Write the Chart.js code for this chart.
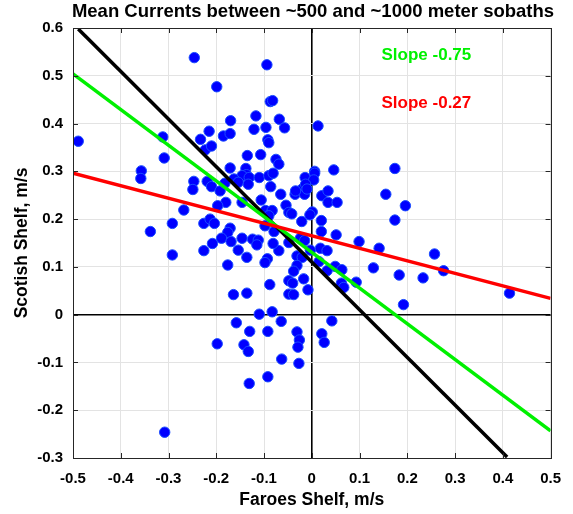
<!DOCTYPE html>
<html>
<head>
<meta charset="utf-8">
<script src="https://cdn.jsdelivr.net/npm/chart.js@4.4.1/dist/chart.umd.min.js"></script>
<style>
  html, body { margin: 0; padding: 0; background: #fff; }
  #chart { display: block; }
</style>
</head>
<body>
<canvas id="chart" width="573" height="514"></canvas>
<script>
// Data
const faroesShelf = [
  -0.246, -0.094, -0.199, -0.489, -0.312, -0.309, -0.357, -0.358, -0.170, -0.117,
  -0.215, -0.233, -0.185, -0.171, -0.223, -0.210, -0.121, -0.096, -0.092, -0.090,
  -0.087, -0.082, -0.068, -0.057, -0.135, -0.107, -0.075, -0.069, -0.171, -0.138,
  -0.137, -0.146, -0.131, -0.163, -0.154, -0.110, -0.090, -0.081, -0.086, -0.133,
  0.013, 0.046, 0.174, 0.006, -0.014, 0.006, 0.004, -0.065, -0.035, -0.020,
  -0.015, -0.013, 0.021, 0.034, 0.034, 0.053, -0.054, -0.048, -0.042, 0.001,
  -0.004, 0.155, 0.196, 0.174, -0.021, 0.020, 0.020, 0.051, 0.099, 0.141,
  0.257, 0.276, 0.414, -0.069, -0.048, -0.024, -0.015, -0.003, 0.018, 0.032,
  -0.031, -0.020, 0.015, -0.031, 0.049, 0.063, 0.129, 0.183, 0.233, -0.038,
  0.032, -0.048, -0.040, -0.017, 0.062, 0.067, 0.093, -0.008, -0.048, -0.038,
  0.192, -0.064, 0.042, -0.031, 0.021, -0.026, -0.029, 0.026, -0.063, -0.027,
  -0.088, -0.164, -0.136, -0.110, -0.083, -0.158, -0.130, -0.092, -0.198, -0.142,
  -0.133, -0.092, -0.131, -0.308, -0.247, -0.249, -0.219, -0.210, -0.192, -0.182,
  -0.180, -0.197, -0.146, -0.106, -0.268, -0.097, -0.083, -0.090, -0.098, -0.292,
  -0.226, -0.213, -0.204, -0.338, -0.171, -0.176, -0.146, -0.189, -0.169, -0.124,
  -0.112, -0.115, -0.079, -0.081, -0.208, -0.226, -0.292, -0.154, -0.136, -0.093,
  -0.098, -0.176, -0.034, -0.010
];
const scotishShelf = [
  0.538, 0.523, 0.477, 0.363, 0.372, 0.328, 0.301, 0.285, 0.406, 0.416,
  0.384, 0.367, 0.374, 0.379, 0.345, 0.353, 0.388, 0.392, 0.366, 0.360,
  0.446, 0.448, 0.409, 0.391, 0.333, 0.335, 0.325, 0.315, 0.307, 0.306,
  0.293, 0.291, 0.287, 0.284, 0.277, 0.287, 0.291, 0.296, 0.268, 0.273,
  0.395, 0.303, 0.306, 0.300, 0.287, 0.296, 0.282, 0.252, 0.252, 0.263,
  0.252, 0.273, 0.249, 0.259, 0.235, 0.235, 0.229, 0.214, 0.211, 0.215,
  0.209, 0.252, 0.228, 0.198, 0.195, 0.197, 0.174, 0.167, 0.153, 0.139,
  0.127, 0.092, 0.045, 0.134, 0.151, 0.160, 0.155, 0.135, 0.139, 0.134,
  0.123, 0.120, 0.111, 0.103, 0.101, 0.094, 0.098, 0.083, 0.077, 0.091,
  0.092, 0.071, 0.066, 0.075, 0.066, 0.057, 0.068, 0.052, 0.043, 0.042,
  0.021, -0.014, -0.013, -0.036, -0.040, -0.053, -0.068, -0.058, -0.093, -0.102,
  0.063, 0.042, 0.045, 0.001, 0.006, -0.017, -0.035, -0.035, -0.061, -0.063,
  -0.077, -0.130, -0.144, -0.246, 0.279, 0.262, 0.279, 0.268, 0.259, 0.275,
  0.235, 0.228, 0.235, 0.240, 0.219, 0.218, 0.218, 0.207, 0.186, 0.191,
  0.191, 0.200, 0.191, 0.174, 0.181, 0.172, 0.160, 0.160, 0.153, 0.158,
  0.156, 0.146, 0.174, 0.149, 0.149, 0.134, 0.125, 0.135, 0.120, 0.117,
  0.109, 0.104, 0.259, 0.263
];

// Fitted lines, end points
const blackLineX = [-0.489, 0.409];
const blackLineY = [0.598, -0.298];
const greenLineX = [-0.5, 0.5];
const greenLineY = [0.504, -0.243];
const redLineX = [-0.5, 0.5];
const redLineY = [0.296, 0.034];

// Axis ticks
const xTicks = [-0.5, -0.4, -0.3, -0.2, -0.1, 0, 0.1, 0.2, 0.3, 0.4, 0.5];
const yTicks = [-0.3, -0.2, -0.1, 0, 0.1, 0.2, 0.3, 0.4, 0.5, 0.6];

const chartTitle = 'Mean Currents between ~500 and ~1000 meter sobaths';
const xTitle = 'Faroes Shelf, m/s';
const yTitle = 'Scotish Shelf, m/s';
const slopeLabels = [
  { text: 'Slope -0.75', color: '#00f000', x: 0.24, y: 0.543 },
  { text: 'Slope -0.27', color: '#ff0000', x: 0.24, y: 0.442 }
];

const FONT = '"Liberation Sans", Arial, Helvetica, sans-serif';

function toPoints(xs, ys) {
  return xs.map((x, i) => ({ x: x, y: ys[i] }));
}

function tickLabel(v) {
  if (Math.abs(v) < 1e-9) return '0';
  return v.toFixed(1);
}

// MATLAB style box, inner ticks and text
const matlabFrame = {
  id: 'matlabFrame',
  afterDatasetsDraw(chart) {
    const ctx = chart.ctx;
    const a = chart.chartArea;
    const xs = chart.scales.x;
    const ys = chart.scales.y;
    ctx.save();
    ctx.strokeStyle = '#262626';
    ctx.lineWidth = 1;
    ctx.beginPath();
    xTicks.forEach(v => {
      const px = Math.round(xs.getPixelForValue(v)) + 0.5;
      ctx.moveTo(px, a.top); ctx.lineTo(px, a.top + 5);
      ctx.moveTo(px, a.bottom); ctx.lineTo(px, a.bottom - 5);
    });
    yTicks.forEach(v => {
      const py = Math.round(ys.getPixelForValue(v)) + 0.5;
      ctx.moveTo(a.left, py); ctx.lineTo(a.left + 5, py);
      ctx.moveTo(a.right, py); ctx.lineTo(a.right - 5, py);
    });
    ctx.stroke();
    ctx.strokeRect(Math.round(a.left) + 0.5, Math.round(a.top) + 0.5,
      Math.round(a.right - a.left), Math.round(a.bottom - a.top));

    ctx.fillStyle = '#000';
    ctx.textAlign = 'center';
    ctx.textBaseline = 'middle';
    ctx.font = 'bold 18.5px ' + FONT;
    ctx.fillText(chartTitle, 313, 12);

    ctx.font = 'bold 17.5px ' + FONT;
    ctx.fillText(xTitle, (a.left + a.right) / 2, 500);
    ctx.save();
    ctx.translate(22, (a.top + a.bottom) / 2);
    ctx.rotate(-Math.PI / 2);
    ctx.fillText(yTitle, 0, 0);
    ctx.restore();

    ctx.font = 'bold 17px ' + FONT;
    slopeLabels.forEach(s => {
      ctx.fillStyle = s.color;
      ctx.fillText(s.text, xs.getPixelForValue(s.x), ys.getPixelForValue(s.y));
    });
    ctx.restore();
  }
};

function lineSet(xs, ys, color) {
  return {
    type: 'line',
    data: toPoints(xs, ys),
    borderColor: color,
    borderWidth: 3.5,
    pointRadius: 0,
    showLine: true,
    fill: false
  };
}

new Chart(document.getElementById('chart'), {
  type: 'scatter',
  data: {
    datasets: [
      lineSet(redLineX, redLineY, '#ff0000'),
      lineSet(greenLineX, greenLineY, '#00f000'),
      lineSet(blackLineX, blackLineY, '#000000'),
      {
        data: toPoints(faroesShelf, scotishShelf),
        backgroundColor: '#0000ff',
        borderColor: '#1a4cff',
        borderWidth: 1,
        pointRadius: 5.2,
        order: 5
      }
    ]
  },
  options: {
    responsive: false,
    animation: false,
    events: [],
    layout: { padding: { top: 28, right: 21, left: 0, bottom: 0 } },
    plugins: {
      legend: { display: false },
      tooltip: { enabled: false }
    },
    scales: {
      x: {
        type: 'linear',
        min: -0.5,
        max: 0.5,
        afterBuildTicks: s => { s.ticks = xTicks.map(v => ({ value: v })); },
        afterFit: s => { s.height = 56; },
        border: { display: false },
        grid: {
          drawTicks: false,
          color: c => Math.abs(c.tick.value) < 1e-9 ? '#000' : '#e3e3e3',
          lineWidth: c => Math.abs(c.tick.value) < 1e-9 ? 1.6 : 1
        },
        ticks: {
          padding: 12,
          color: '#000',
          maxRotation: 0,
          font: { family: FONT, size: 15, weight: 'bold' },
          callback: v => tickLabel(v)
        }
      },
      y: {
        type: 'linear',
        min: -0.3,
        max: 0.6,
        afterBuildTicks: s => { s.ticks = yTicks.map(v => ({ value: v })); },
        afterFit: s => { s.width = 73; },
        border: { display: false },
        grid: {
          drawTicks: false,
          color: c => Math.abs(c.tick.value) < 1e-9 ? '#000' : '#e3e3e3',
          lineWidth: c => Math.abs(c.tick.value) < 1e-9 ? 1.6 : 1
        },
        ticks: {
          padding: 10,
          color: '#000',
          font: { family: FONT, size: 15, weight: 'bold' },
          callback: v => tickLabel(v)
        }
      }
    }
  },
  plugins: [matlabFrame]
});
</script>
</body>
</html>
